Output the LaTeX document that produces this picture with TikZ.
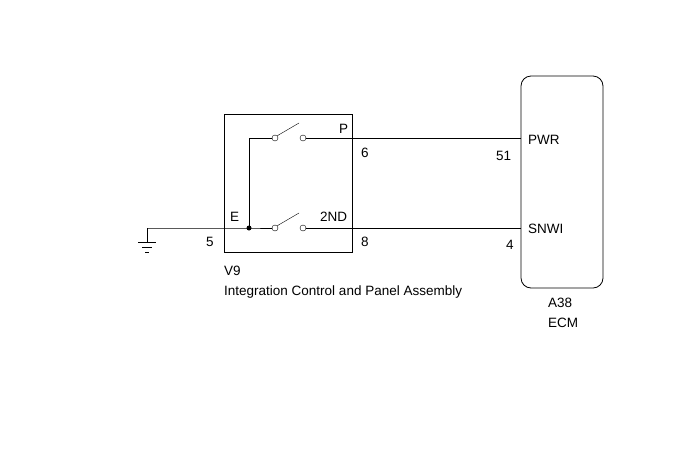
\documentclass[tikz,border=0pt]{standalone}
\usepackage{fontspec}
\setmainfont{Liberation Sans}
\begin{document}
\begin{tikzpicture}[x=1pt,y=-1pt,font=\fontsize{13.5}{15}\selectfont,
  lbl/.style={inner sep=0pt,anchor=base west},
  term/.style={circle,draw,fill=white,inner sep=0pt,minimum size=6pt}]
\useasboundingbox (0,0) rectangle (690,464);

% Boxes of the two assemblies
\draw[thick] (224,114) rectangle (352,252);
\draw[thick,rounded corners=10pt] (521,76) rectangle (603,288);

% Switch contacts and junction
\node[term] (pa) at (275,138) {};
\node[term] (pb) at (303,138) {};
\node[term] (sa) at (275,228) {};
\node[term] (sb) at (303,228) {};
\coordinate (jn) at (249,228);
\coordinate (gnd) at (147,228);
\coordinate (pwr) at (521,138);
\coordinate (snw) at (521,228);

% Wiring
\draw (gnd) -- (jn) -- (sa);
\draw (jn) |- (pa);
\draw (pb) -- (pwr);
\draw (sb) -- (snw);
\fill (jn) circle (2.5pt);
\draw (pa.north east) -- (299,123);
\draw (sa.north east) -- (299,213);

% Ground symbol
\draw (gnd) -- (147,242);
\draw (138,242) -- (156,242);
\draw (142,247) -- (152,247);
\draw (145,252) -- (149,252);

% Labels
\node[lbl] at (230,221) {E};
\node[lbl] at (339,133) {P};
\node[lbl] at (320,221) {2ND};
\node[lbl] at (361,157) {6};
\node[lbl] at (361,246) {8};
\node[lbl] at (206,246) {5};
\node[lbl] at (528,144) {PWR};
\node[lbl] at (528,233) {SNWI};
\node[lbl] at (496,160) {51};
\node[lbl] at (506,249) {4};
\node[lbl] at (224,275) {V9};
\node[lbl] at (224,295) {Integration Control and Panel Assembly};
\node[lbl] at (548,307) {A38};
\node[lbl] at (548,327) {ECM};
\end{tikzpicture}
\end{document}
